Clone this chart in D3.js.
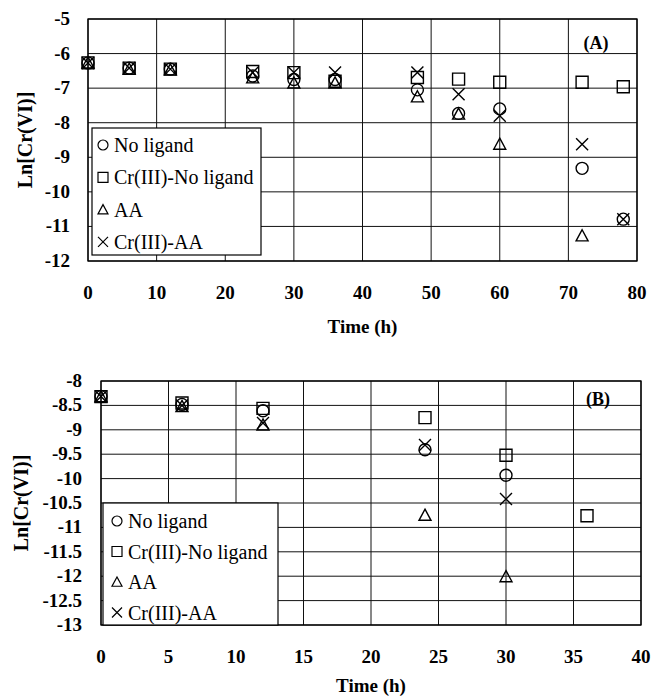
<!DOCTYPE html>
<html>
<head>
<meta charset="utf-8">
<script src="https://cdn.jsdelivr.net/npm/d3@7"></script>
<style>
  html, body { margin: 0; padding: 0; background: #fff; }
  svg { display: block; }
</style>
</head>
<body>
<svg id="chart" width="652" height="699"></svg>
<script>
// ---------- data ----------
const seriesNames = ["No ligand", "Cr(III)-No ligand", "AA", "Cr(III)-AA"];
const seriesShapes = ["circle", "square", "triangle", "cross"];

// Panel A
const timeA = [0, 6, 12, 24, 30, 36, 48, 54, 60, 72, 78];
const noLigandA   = [-6.27, -6.42, -6.45, -6.65, -6.75, -6.75, -7.05, -7.73, -7.60, -9.32, -10.79];
const crNoLigandA = [-6.27, -6.42, -6.45, -6.52, -6.55, -6.80, -6.69, -6.74, -6.83, -6.83, -6.96];
const aaA         = [-6.27, -6.45, -6.47, -6.70, -6.85, -6.85, -7.25, -7.75, -8.62, -11.27, null];
const crAAA       = [-6.27, -6.42, -6.45, -6.55, -6.55, -6.55, -6.55, -7.18, -7.80, -8.62, -10.79];
const xTicksA = [0, 10, 20, 30, 40, 50, 60, 70, 80];
const yTicksA = [-5, -6, -7, -8, -9, -10, -11, -12];

// Panel B
const timeB = [0, 6, 12, 24, 30, 36];
const noLigandB   = [-8.32, -8.48, -8.61, -9.41, -9.93, null];
const crNoLigandB = [-8.32, -8.45, -8.56, -8.75, -9.52, -10.76];
const aaB         = [-8.32, -8.52, -8.90, -10.75, -12.01, null];
const crAAB       = [-8.32, -8.50, -8.86, -9.31, -10.42, null];
const xTicksB = [0, 5, 10, 15, 20, 25, 30, 35, 40];
const yTicksB = [-8, -8.5, -9, -9.5, -10, -10.5, -11, -11.5, -12, -12.5, -13];

const xTitle = "Time (h)";
const yTitle = "Ln[Cr(VI)]";

// ---------- drawing ----------
const FONT = "Liberation Serif";
const svg = d3.select("#chart");

function markerPath(shape, s) {
  const h = s / 2;
  if (shape === "circle") {
    const p = d3.path(); p.moveTo(h, 0); p.arc(0, 0, h, 0, Math.PI * 2); p.closePath(); return p.toString();
  }
  if (shape === "square") return `M${-h},${-h}H${h}V${h}H${-h}Z`;
  if (shape === "triangle") return `M0,${-h}L${h},${h * 0.85}L${-h},${h * 0.85}Z`;
  return `M${-h},${-h}L${h},${h}M${h},${-h}L${-h},${h}`;
}

function txt(g) {
  return g.append("text").attr("font-family", FONT).attr("fill", "#000");
}

function drawPanel(cfg) {
  const g = svg.append("g");
  const x = d3.scaleLinear().domain(cfg.xDomain).range([cfg.left, cfg.right]);
  const y = d3.scaleLinear().domain(cfg.yDomain).range([cfg.top, cfg.bottom]);

  // grid
  g.selectAll(".hg").data(cfg.yTicks).join("line")
    .attr("x1", cfg.left).attr("x2", cfg.right)
    .attr("y1", d => y(d)).attr("y2", d => y(d))
    .attr("stroke", "#111").attr("stroke-width", 1);
  g.selectAll(".vg").data(cfg.xTicks).join("line")
    .attr("y1", cfg.top).attr("y2", cfg.bottom)
    .attr("x1", d => x(d)).attr("x2", d => x(d))
    .attr("stroke", "#111").attr("stroke-width", 1);
  g.append("rect")
    .attr("x", cfg.left).attr("y", cfg.top)
    .attr("width", cfg.right - cfg.left).attr("height", cfg.bottom - cfg.top)
    .attr("fill", "none").attr("stroke", "#000").attr("stroke-width", 1.3);

  // tick labels
  g.selectAll(".yl").data(cfg.yTicks).join("text")
    .attr("font-family", FONT)
    .attr("x", cfg.left - cfg.yPad).attr("y", d => y(d) + 6)
    .attr("text-anchor", "end").attr("font-size", 19).attr("font-weight", "bold")
    .text(d => String(d));
  g.selectAll(".xl").data(cfg.xTicks).join("text")
    .attr("font-family", FONT)
    .attr("x", d => x(d)).attr("y", cfg.xLabelY)
    .attr("text-anchor", "middle").attr("font-size", 19).attr("font-weight", "bold")
    .text(d => d);

  // titles
  txt(g).attr("x", (cfg.left + cfg.right) / 2).attr("y", cfg.xTitleY)
    .attr("text-anchor", "middle").attr("font-size", 19).attr("font-weight", "bold")
    .text(xTitle);
  txt(g).attr("transform", `translate(${cfg.yTitleX},${(cfg.top + cfg.bottom) / 2}) rotate(-90)`)
    .attr("text-anchor", "middle").attr("font-size", 20).attr("font-weight", "bold")
    .text(yTitle);

  // panel label
  txt(g).attr("x", cfg.tagX).attr("y", cfg.tagY)
    .attr("text-anchor", "middle").attr("font-size", 18).attr("font-weight", "bold")
    .text(cfg.tag);

  // points
  cfg.series.forEach((vals, si) => {
    const pts = cfg.time.map((t, i) => ({ t, v: vals[i] })).filter(d => d.v !== null);
    g.selectAll(null).data(pts).join("path")
      .attr("transform", d => `translate(${x(d.t)},${y(d.v)})`)
      .attr("d", markerPath(seriesShapes[si], 12))
      .attr("fill", "none").attr("stroke", "#000").attr("stroke-width", 1.4);
  });

  // legend
  const L = cfg.legend;
  g.append("rect").attr("x", L.x).attr("y", L.y).attr("width", L.w).attr("height", L.h)
    .attr("fill", "#fff").attr("stroke", "#000").attr("stroke-width", 1.2);
  seriesNames.forEach((name, i) => {
    const cy = L.y0 + i * L.step;
    g.append("path")
      .attr("transform", `translate(${L.mx},${cy})`)
      .attr("d", markerPath(seriesShapes[i], 10))
      .attr("fill", "none").attr("stroke", "#000").attr("stroke-width", 1.2);
    txt(g).attr("x", L.tx).attr("y", cy + 7)
      .attr("font-size", 20).text(name);
  });
}

drawPanel({
  left: 88, right: 637, top: 19, bottom: 261,
  xDomain: [0, 80], yDomain: [-5, -12],
  xTicks: xTicksA, yTicks: yTicksA,
  yPad: 18, xLabelY: 299, xTitleY: 333, yTitleX: 32,
  tag: "(A)", tagX: 596, tagY: 49,
  time: timeA, series: [noLigandA, crNoLigandA, aaA, crAAA],
  legend: { x: 92, y: 128, w: 169, h: 127, mx: 103, tx: 114, y0: 145, step: 32.3 }
});

drawPanel({
  left: 101, right: 641, top: 381, bottom: 625,
  xDomain: [0, 40], yDomain: [-8, -13],
  xTicks: xTicksB, yTicks: yTicksB,
  yPad: 19, xLabelY: 663, xTitleY: 692, yTitleX: 28,
  tag: "(B)", tagX: 598, tagY: 405,
  time: timeB, series: [noLigandB, crNoLigandB, aaB, crAAB],
  legend: { x: 103, y: 503, w: 175, h: 122, mx: 117, tx: 128, y0: 521, step: 30.5 }
});
</script>
</body>
</html>
